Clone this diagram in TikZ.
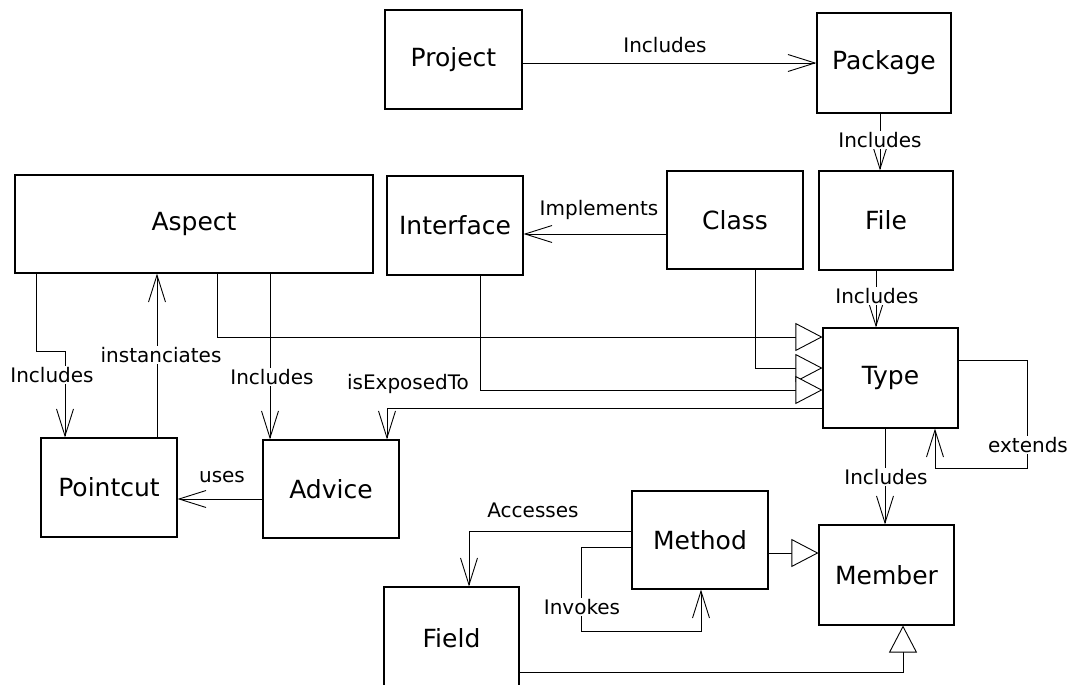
\documentclass[tikz,border=0pt]{standalone}
\usepackage{fontspec}
\setmainfont{DejaVu Sans}
\usetikzlibrary{arrows.meta}
\begin{document}
\begin{tikzpicture}[x=1pt,y=-1pt,line width=0.9pt,
  box/.style={draw,line width=1.1pt,inner sep=0pt,font=\fontsize{25}{30}\selectfont},
  lbl/.style={font=\fontsize{20}{24}\selectfont,inner sep=1.5pt},
  cut/.style={lbl,fill=white},
  inc/.style={-{Straight Barb[length=27pt,width=17pt]}},
  gen/.style={-{Triangle[length=27pt,width=28pt,fill=white]}}]
\fill[white] (0,0) rectangle (1074,685);
\useasboundingbox (0,0) rectangle (1074,685);
% boxes
\node[box,minimum width=137pt,minimum height=99pt] (Project) at (453.5,59.5) {Project};
\node[box,minimum width=134pt,minimum height=100pt] (Package) at (884,63) {Package};
\node[box,minimum width=134pt,minimum height=99pt] (File) at (886,220.5) {File};
\node[box,minimum width=136pt,minimum height=98pt] (Class) at (735,220) {Class};
\node[box,minimum width=136pt,minimum height=99pt] (Interface) at (455,225.5) {Interface};
\node[box,minimum width=358pt,minimum height=98pt] (Aspect) at (194,224) {Aspect};
\node[box,minimum width=135pt,minimum height=100pt] (Type) at (890.5,378) {Type};
\node[box,minimum width=136pt,minimum height=99pt] (Pointcut) at (109,487.5) {Pointcut};
\node[box,minimum width=136pt,minimum height=98pt] (Advice) at (331,489) {Advice};
\node[box,minimum width=136pt,minimum height=98pt] (Method) at (700,540) {Method};
\node[box,minimum width=135pt,minimum height=100pt] (Member) at (886.5,575) {Member};
\node[box,minimum width=135pt,minimum height=103pt] (Field) at (451.5,638.5) {Field};
% anchor points on Type
\coordinate (t1) at ([yshift=41pt]Type.west);
\coordinate (t2) at ([yshift=10pt]Type.west);
\coordinate (t3) at ([yshift=-12pt]Type.west);
\coordinate (t4) at ([yshift=-30pt]Type.west);
% Project -> Package
\draw[inc] (Project.east |- Package.west) -- (Package.west);
\node[lbl] (lInc1) at (665,45) {Includes};
% Package -> File
\coordinate (ps) at ([xshift=-4pt]Package.south);
\draw[inc] (ps) -- (ps |- File.north);
\node[cut] (lInc2) at (880,140) {Includes};
% File -> Type
\coordinate (fs) at ([xshift=-10pt]File.south);
\draw[inc] (fs) -- (fs |- Type.north);
\node[cut] (lInc3) at (877,296) {Includes};
% Class -> Interface
\coordinate (cw) at ([yshift=-14pt]Class.west);
\draw[inc] (cw) -- (cw -| Interface.east);
\node[lbl] (lImpl) at (599,210) {Implements};
% generalizations to Type
\draw[gen] ([xshift=23pt]Aspect.south) |- (t1);
\draw[gen] ([xshift=20pt]Class.south) |- (t2);
\draw[gen] ([xshift=25pt]Interface.south) |- (t3);
% Type -> Advice
\draw[inc] (t4) -| ([xshift=56pt]Advice.north);
\node[lbl] (lExp) at (408,384) {isExposedTo};
% Aspect -> Pointcut
\draw[inc] ([xshift=-158pt]Aspect.south) -- ++(0,78) -| ([xshift=-44pt]Pointcut.north);
\node[cut] (lInc4) at (52,375) {Includes};
% Pointcut -> Aspect
\coordinate (pn) at ([xshift=48pt]Pointcut.north);
\draw[inc] (pn) -- (pn |- Aspect.south);
\node[cut] (lInst) at (161,355) {instanciates};
% Aspect -> Advice
\coordinate (an) at ([xshift=-61pt]Advice.north);
\draw[inc] (an |- Aspect.south) -- (an);
\node[cut] (lInc5) at (272,377) {Includes};
% Advice -> Pointcut
\coordinate (aw) at ([yshift=-10pt]Advice.west);
\draw[inc] (aw) -- (aw -| Pointcut.east);
\node[lbl] (lUses) at (222,477) {uses};
% Type extends Type
\draw[inc] ([yshift=18pt]Type.east) -- ++(69,0) -- ++(0,108) -| ([xshift=44.5pt]Type.south);
\node[cut] (lExt) at (1028,445) {extends};
% Type -> Member
\coordinate (ts) at ([xshift=-5.5pt]Type.south);
\draw[inc] (ts) -- (ts |- Member.north);
\node[cut] (lInc6) at (886,477) {Includes};
% Method -> Member
\coordinate (me) at ([yshift=-13pt]Method.east);
\draw[gen] (me) -- (me -| Member.west);
% Field -> Member
\draw[gen] ([yshift=-33.5pt]Field.east) -| ([xshift=16.5pt]Member.south);
% Method -> Field
\draw[inc] ([yshift=9pt]Method.west) -| ([xshift=17.5pt]Field.north);
\node[lbl] (lAcc) at (533,510) {Accesses};
% Method invokes Method
\draw[inc] ([yshift=-7pt]Method.west) -- ++(-50,0) -- ++(0,84) -| ([xshift=1pt]Method.south);
\node[cut] (lInv) at (582,607) {Invokes};
\end{tikzpicture}
\end{document}
